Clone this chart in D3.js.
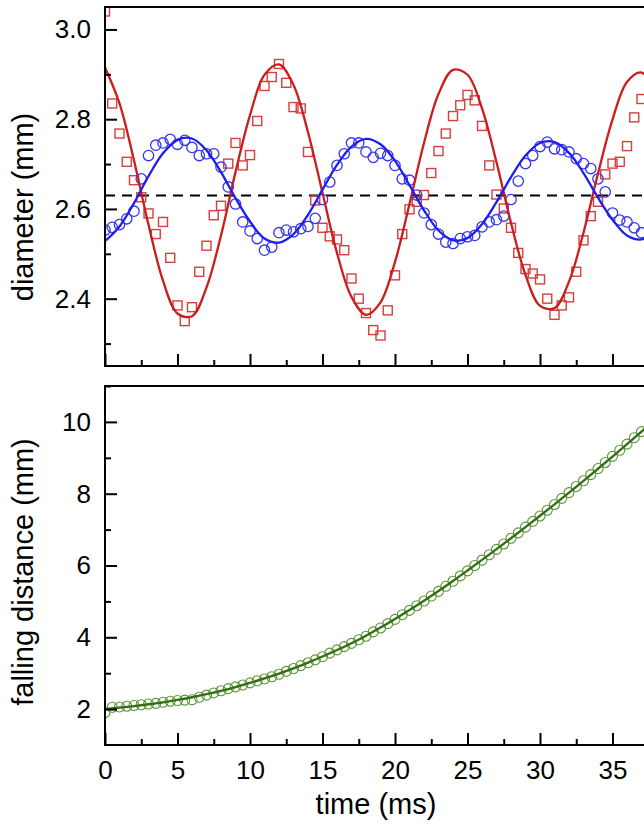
<!DOCTYPE html>
<html>
<head>
<meta charset="utf-8">
<script src="https://cdn.jsdelivr.net/npm/d3@7"></script>
<style>
  html, body { margin: 0; padding: 0; background: #fff; overflow: hidden; }
  svg { display: block; font-family: "Liberation Sans", Arial, sans-serif; }
</style>
</head>
<body>
<script>
// Time axis (ms)
const xTicks = [0, 5, 10, 15, 20, 25, 30, 35];
const xMinor = [2.5, 7.5, 12.5, 17.5, 22.5, 27.5, 32.5, 37.5];

// Upper panel: drop diameters (mm)
const diamTicks = [2.4, 2.6, 2.8, 3.0];
const diamMinor = [2.3, 2.5, 2.7, 2.9];
const diamMean = 2.63;

// Measured samples, every 0.5 ms
const sampleTimes = d3.range(0, 37.01, 0.5);
const diamRed = [3.04, 2.835, 2.768, 2.705, 2.664, 2.626, 2.590, 2.544, 2.571, 2.491,
  2.385, 2.350, 2.381, 2.460, 2.518, 2.586, 2.607, 2.701, 2.747, 2.697,
  2.720, 2.796, 2.874, 2.894, 2.923, 2.881, 2.827, 2.824, 2.727, 2.619,
  2.558, 2.539, 2.532, 2.508, 2.445, 2.400, 2.368, 2.330, 2.318, 2.374,
  2.452, 2.544, 2.599, 2.616, 2.631, 2.680, 2.729, 2.768, 2.807, 2.831,
  2.854, 2.842, 2.785, 2.697, 2.632, 2.601, 2.558, 2.502, 2.466, 2.456,
  2.443, 2.400, 2.364, 2.385, 2.403, 2.460, 2.530, 2.584, 2.616, 2.677,
  2.701, 2.705, 2.740, 2.804, 2.845];
const diamBlue = [2.553, 2.559, 2.565, 2.578, 2.595, 2.667, 2.719, 2.742, 2.747, 2.755,
  2.744, 2.753, 2.737, 2.719, 2.723, 2.723, 2.693, 2.649, 2.611, 2.571,
  2.551, 2.534, 2.508, 2.515, 2.547, 2.553, 2.549, 2.556, 2.561, 2.579,
  2.621, 2.660, 2.697, 2.723, 2.747, 2.747, 2.727, 2.715, 2.724, 2.719,
  2.697, 2.667, 2.664, 2.631, 2.591, 2.565, 2.544, 2.526, 2.523, 2.534,
  2.538, 2.541, 2.560, 2.571, 2.576, 2.584, 2.621, 2.662, 2.701, 2.719,
  2.739, 2.749, 2.734, 2.732, 2.727, 2.712, 2.701, 2.690, 2.667, 2.638,
  2.591, 2.575, 2.571, 2.558, 2.547];

// Fitted oscillations, read every 1 ms
const fitTimes = d3.range(0, 38.01, 1);
const fitRed = [2.915, 2.835, 2.708, 2.565, 2.440, 2.367, 2.361, 2.425, 2.541, 2.682,
  2.809, 2.899, 2.922, 2.876, 2.771, 2.636, 2.502, 2.404, 2.364, 2.392,
  2.482, 2.611, 2.747, 2.856, 2.910, 2.899, 2.824, 2.704, 2.569, 2.453,
  2.384, 2.379, 2.438, 2.547, 2.679, 2.799, 2.883, 2.904, 2.861];
const fitBlue = [2.528, 2.561, 2.613, 2.673, 2.724, 2.754, 2.757, 2.731, 2.682, 2.624,
  2.572, 2.534, 2.525, 2.544, 2.587, 2.643, 2.698, 2.739, 2.756, 2.744,
  2.707, 2.653, 2.597, 2.552, 2.530, 2.535, 2.566, 2.615, 2.671, 2.719,
  2.747, 2.749, 2.725, 2.680, 2.625, 2.576, 2.541, 2.532, 2.550];

// Lower panel: falling distance (mm)
const fallTicks = [2, 4, 6, 8, 10];
const fallMinor = [3, 5, 7, 9, 11];
const fallData = [1.90, 2.05, 2.06, 2.08, 2.10, 2.12, 2.14, 2.16, 2.19, 2.22,
  2.24, 2.25, 2.26, 2.33, 2.39, 2.45, 2.51, 2.57, 2.62, 2.67,
  2.73, 2.79, 2.84, 2.90, 2.97, 3.05, 3.13, 3.21, 3.29, 3.37,
  3.46, 3.56, 3.65, 3.74, 3.83, 3.93, 4.03, 4.15, 4.26, 4.38,
  4.50, 4.63, 4.75, 4.88, 5.01, 5.15, 5.28, 5.42, 5.56, 5.71,
  5.85, 6.00, 6.15, 6.30, 6.45, 6.60, 6.76, 6.91, 7.07, 7.23,
  7.38, 7.54, 7.70, 7.87, 8.03, 8.20, 8.36, 8.53, 8.70, 8.87,
  9.04, 9.21, 9.38, 9.56, 9.73];
const fallFit = [2.00, 2.04, 2.085, 2.135, 2.19, 2.255, 2.33, 2.415, 2.51, 2.615,
  2.73, 2.855, 2.99, 3.135, 3.295, 3.465, 3.645, 3.835, 4.045, 4.27,
  4.51, 4.76, 5.02, 5.29, 5.57, 5.86, 6.155, 6.455, 6.76, 7.07,
  7.385, 7.705, 8.03, 8.36, 8.695, 9.035, 9.38, 9.73, 10.085];

const W = 644, H = 827;
const svg = d3.select("body").append("svg").attr("width", W).attr("height", H);

const x = d3.scaleLinear().domain([0, 40]).range([105, 685]);
const panelTop = { y0: 7, y1: 366 };
const panelBot = { y0: 386, y1: 745 };
const yTop = d3.scaleLinear().domain([2.25, 3.05]).range([panelTop.y1, panelTop.y0]);
const yBot = d3.scaleLinear().domain([1, 11]).range([panelBot.y1, panelBot.y0]);

const defs = svg.append("defs");
function clip(id, p) {
  defs.append("clipPath").attr("id", id).append("rect")
    .attr("x", x(0)).attr("y", p.y0).attr("width", x(40) - x(0)).attr("height", p.y1 - p.y0);
}
clip("clipTop", panelTop);
clip("clipBot", panelBot);

const tickFont = 26;

// ---------- upper panel ----------
const gTop = svg.append("g").attr("clip-path", "url(#clipTop)");

gTop.append("line")
  .attr("x1", x(0)).attr("x2", x(40))
  .attr("y1", yTop(diamMean)).attr("y2", yTop(diamMean))
  .attr("stroke", "#000").attr("stroke-width", 2).attr("stroke-dasharray", "10,7");

const fitLine = (ys, yScale) => d3.line()
  .x((d, i) => x(fitTimes[i])).y(d => yScale(d))
  .curve(d3.curveCatmullRom.alpha(0.5))(ys);

const sq = 9;
gTop.append("g").selectAll("rect").data(diamRed).join("rect")
  .attr("x", (d, i) => x(sampleTimes[i]) - sq / 2)
  .attr("y", d => yTop(d) - sq / 2)
  .attr("width", sq).attr("height", sq)
  .attr("fill", "none").attr("stroke", "#d63f3f").attr("stroke-width", 1.4);

gTop.append("g").selectAll("circle").data(diamBlue).join("circle")
  .attr("cx", (d, i) => x(sampleTimes[i]))
  .attr("cy", d => yTop(d))
  .attr("r", 5.2)
  .attr("fill", "none").attr("stroke", "#3434f2").attr("stroke-width", 1.3);

gTop.append("path").attr("d", fitLine(fitRed, yTop))
  .attr("fill", "none").attr("stroke", "#cc1c1c").attr("stroke-width", 2.3);
gTop.append("path").attr("d", fitLine(fitBlue, yTop))
  .attr("fill", "none").attr("stroke", "#1e1ef0").attr("stroke-width", 2.3);

// ---------- lower panel ----------
const gBot = svg.append("g").attr("clip-path", "url(#clipBot)");

gBot.append("g").selectAll("circle").data(fallData).join("circle")
  .attr("cx", (d, i) => x(sampleTimes[i]))
  .attr("cy", d => yBot(d))
  .attr("r", 5)
  .attr("fill", "none").attr("stroke", "#5a9436").attr("stroke-width", 1.1);

gBot.append("path").attr("d", fitLine(fallFit, yBot))
  .attr("fill", "none").attr("stroke", "#336d14").attr("stroke-width", 2.3);

// ---------- axes ----------
function styleAxis(g) {
  g.select(".domain").remove();
  g.selectAll("line").attr("stroke", "#000").attr("stroke-width", 2);
  g.selectAll("text").attr("font-size", tickFont).attr("fill", "#000")
    .attr("font-family", '"Liberation Sans", Arial, sans-serif');
}

function panelAxes(p, yScale, yMajor, yMinor, fmt, showX) {
  // left axis, ticks pointing inward
  svg.append("g").attr("transform", `translate(${x(0)},0)`)
    .call(d3.axisLeft(yScale).tickValues(yMajor).tickSizeInner(-12).tickSizeOuter(0)
      .tickPadding(14).tickFormat(fmt))
    .call(styleAxis);
  svg.append("g").attr("transform", `translate(${x(0)},0)`)
    .call(d3.axisLeft(yScale).tickValues(yMinor).tickSizeInner(-6).tickSizeOuter(0)
      .tickFormat(""))
    .call(styleAxis);
  // bottom axis
  svg.append("g").attr("transform", `translate(0,${p.y1})`)
    .call(d3.axisBottom(x).tickValues(xTicks).tickSizeInner(-12).tickSizeOuter(0)
      .tickPadding(16).tickFormat(showX ? d3.format("d") : ""))
    .call(styleAxis);
  svg.append("g").attr("transform", `translate(0,${p.y1})`)
    .call(d3.axisBottom(x).tickValues(xMinor).tickSizeInner(-6).tickSizeOuter(0)
      .tickFormat(""))
    .call(styleAxis);
  // frame
  const frame = svg.append("g").attr("stroke", "#000").attr("stroke-width", 2).attr("fill", "none");
  frame.append("line").attr("x1", x(0)).attr("x2", x(40)).attr("y1", p.y0).attr("y2", p.y0);
  frame.append("line").attr("x1", x(0)).attr("x2", x(40)).attr("y1", p.y1).attr("y2", p.y1);
  frame.append("line").attr("x1", x(0)).attr("x2", x(0)).attr("y1", p.y0 - 1).attr("y2", p.y1 + 1);
}

panelAxes(panelTop, yTop, diamTicks, diamMinor, d3.format(".1f"), false);
panelAxes(panelBot, yBot, fallTicks, fallMinor, d3.format("d"), true);

// ---------- titles ----------
const titleFont = 29;
svg.append("text")
  .attr("transform", "translate(33,207) rotate(-90)")
  .attr("text-anchor", "middle").attr("font-size", titleFont).text("diameter (mm)");
svg.append("text")
  .attr("transform", "translate(33,572) rotate(-90)")
  .attr("text-anchor", "middle").attr("font-size", titleFont).text("falling distance (mm)");
svg.append("text")
  .attr("x", 376).attr("y", 814)
  .attr("text-anchor", "middle").attr("font-size", titleFont).text("time (ms)");
</script>
</body>
</html>
